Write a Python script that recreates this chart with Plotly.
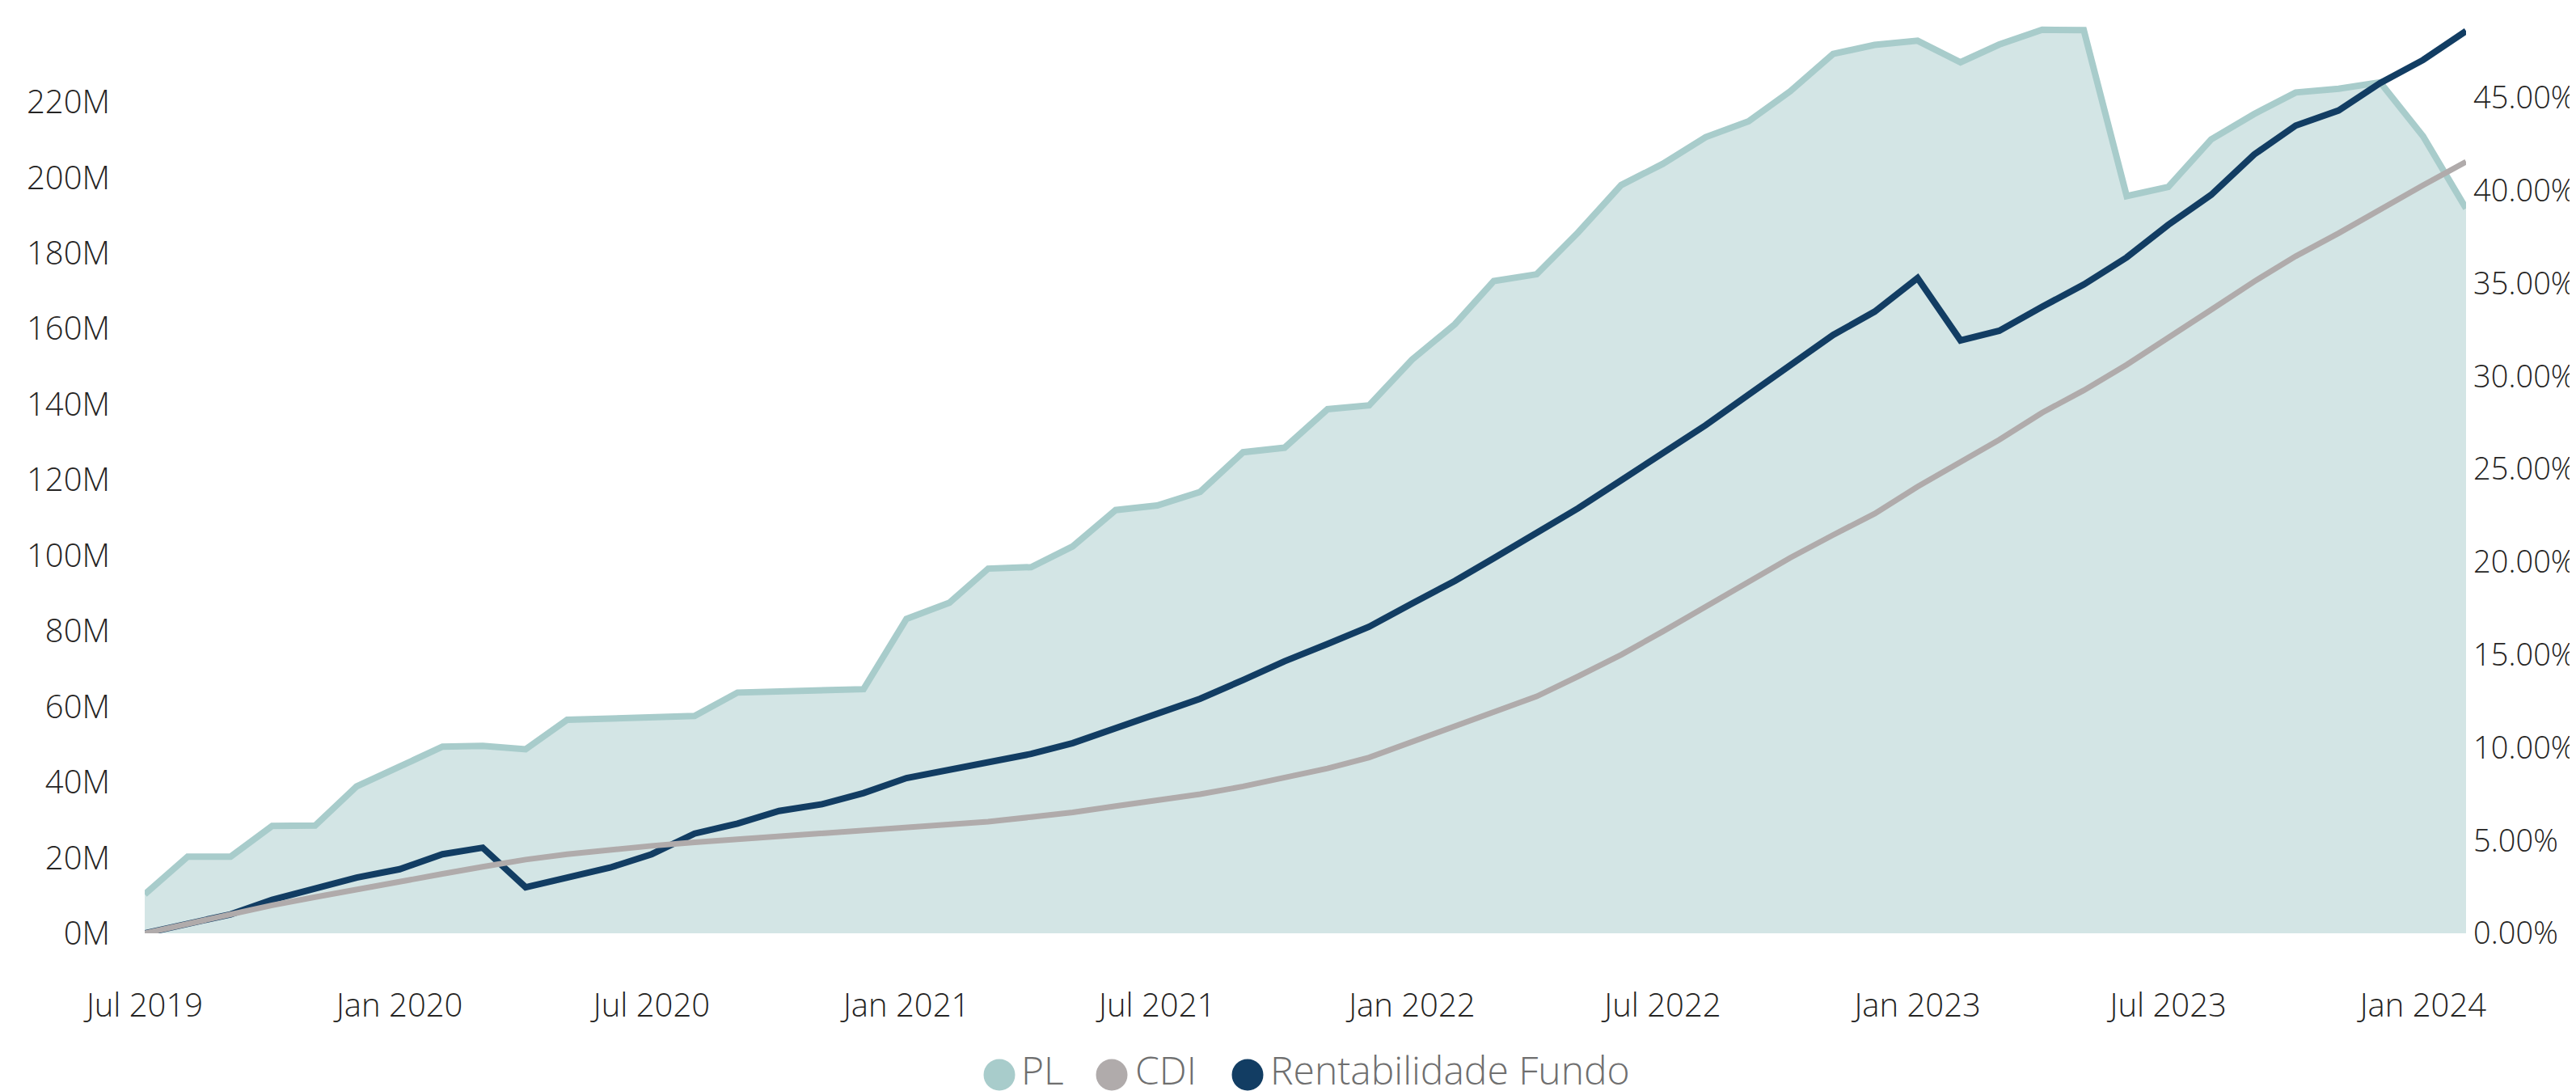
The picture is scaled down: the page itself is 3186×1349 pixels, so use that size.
import plotly.graph_objects as go

# ---------------- data ----------------
months = [
    "2019-07-01", "2019-08-01", "2019-09-01", "2019-10-01", "2019-11-01", "2019-12-01",
    "2020-01-01", "2020-02-01", "2020-03-01", "2020-04-01", "2020-05-01", "2020-06-01",
    "2020-07-01", "2020-08-01", "2020-09-01", "2020-10-01", "2020-11-01", "2020-12-01",
    "2021-01-01", "2021-02-01", "2021-03-01", "2021-04-01", "2021-05-01", "2021-06-01",
    "2021-07-01", "2021-08-01", "2021-09-01", "2021-10-01", "2021-11-01", "2021-12-01",
    "2022-01-01", "2022-02-01", "2022-03-01", "2022-04-01", "2022-05-01", "2022-06-01",
    "2022-07-01", "2022-08-01", "2022-09-01", "2022-10-01", "2022-11-01", "2022-12-01",
    "2023-01-01", "2023-02-01", "2023-03-01", "2023-04-01", "2023-05-01", "2023-06-01",
    "2023-07-01", "2023-08-01", "2023-09-01", "2023-10-01", "2023-11-01", "2023-12-01",
    "2024-01-01", "2024-02-01",
]

# PL (net asset value), in millions
pl_millions = [
    10.3, 20.3, 20.3, 28.4, 28.5, 38.9, 44.1, 49.4, 49.6, 48.7,
    56.5, 56.7, 56.9, 57.5, 63.7, 63.9, 64.1, 64.6, 83.2, 87.5,
    96.5, 96.9, 102.4, 112.0, 113.2, 116.8, 127.3, 128.5, 138.7, 139.7,
    151.8, 161.2, 172.6, 174.4, 185.5, 198.0, 203.6, 210.7, 214.9, 222.8,
    232.7, 235.1, 236.2, 230.5, 235.2, 239.1, 239.0, 195.1, 197.5, 210.1,
    216.8, 222.5, 223.5, 225.2, 210.9, 191.8,
]

# Accumulated CDI, in percent
cdi_pct = [
    0.00, 0.50, 1.06, 1.51, 1.95, 2.38, 2.77, 3.20, 3.58, 3.97,
    4.26, 4.52, 4.71, 4.90, 5.06, 5.23, 5.34, 5.50, 5.64, 5.87,
    6.01, 6.26, 6.51, 6.85, 7.14, 7.49, 7.91, 8.40, 8.88, 9.47,
    10.30, 11.12, 11.89, 12.76, 13.84, 15.00, 16.25, 17.60, 18.95, 20.22,
    21.45, 22.60, 24.05, 25.41, 26.58, 28.04, 29.24, 30.62, 32.12, 33.58,
    35.10, 36.46, 37.70, 38.99, 40.29, 41.55,
]

# Accumulated fund return, in percent
fundo_pct = [
    0.00, 0.55, 1.02, 1.80, 2.42, 3.00, 3.45, 4.26, 4.61, 2.48,
    3.00, 3.54, 4.26, 5.37, 5.91, 6.59, 6.95, 7.55, 8.36, 8.82,
    9.18, 9.66, 10.24, 11.02, 11.80, 12.63, 13.64, 14.65, 15.58, 16.51,
    17.76, 18.98, 20.20, 21.52, 22.89, 24.40, 25.85, 27.36, 29.01, 30.57,
    32.22, 33.48, 35.29, 31.93, 32.45, 33.74, 34.94, 36.40, 38.15, 39.77,
    41.94, 43.50, 44.31, 45.79, 47.03, 48.59,
]

left_ticks = [0, 20, 40, 60, 80, 100, 120, 140, 160, 180, 200, 220]
left_ticktext = [f"{v}M" for v in left_ticks]
right_ticks = [0.00, 0.05, 0.10, 0.15, 0.20, 0.25, 0.30, 0.35, 0.40, 0.45]
legend_names = ["PL", "CDI", "Rentabilidade Fundo"]

# ---------------- style ----------------
W, H = 3186, 1349
PLOT_L, PLOT_R, PLOT_T, PLOT_B = 171, 3042, 20, 1146
C_PL_LINE = "#A8CCCB"
C_PL_FILL = "#D3E5E5"
C_CDI = "#B0ABAB"
C_FUNDO = "#123D63"
FONT = "Open Sans"
TXT = "#252423"

cdi_frac = [v / 100 for v in cdi_pct]
fundo_frac = [v / 100 for v in fundo_pct]

fig = go.Figure()
fig.add_trace(go.Scatter(
    x=months, y=pl_millions, name=legend_names[0], mode="lines",
    line=dict(color=C_PL_LINE, width=8), fill="tozeroy", fillcolor=C_PL_FILL,
    showlegend=False, yaxis="y",
))
fig.add_trace(go.Scatter(
    x=months, y=fundo_frac, name=legend_names[2], mode="lines",
    line=dict(color=C_FUNDO, width=8), showlegend=False, yaxis="y2",
))
fig.add_trace(go.Scatter(
    x=months, y=cdi_frac, name=legend_names[1], mode="lines",
    line=dict(color=C_CDI, width=7), showlegend=False, yaxis="y2",
))

plot_h = PLOT_B - PLOT_T
left_max = plot_h / 93.45 * 20
right_max = plot_h / 114.8 * 0.05

tickfont = dict(family=FONT, size=40, color=TXT, weight=300)

fig.update_layout(
    width=W, height=H, autosize=False,
    margin=dict(l=PLOT_L, r=W - PLOT_R, t=PLOT_T, b=H - PLOT_B, pad=0, autoexpand=False),
    paper_bgcolor="white", plot_bgcolor="white",
    font=dict(family=FONT, size=40, color=TXT, weight=300),
    xaxis=dict(
        type="date", range=[months[0], months[-1]],
        tick0="2019-07-01", dtick="M6", tickformat="%b %Y",
        showgrid=False, zeroline=False, showline=False, ticks="",
        ticklabelstandoff=62, automargin=False, tickfont=tickfont,
    ),
    yaxis=dict(
        range=[0, left_max], tickmode="array", tickvals=left_ticks, ticktext=left_ticktext,
        showgrid=False, zeroline=False, showline=False, ticks="",
        ticklabelstandoff=42, automargin=False, tickfont=tickfont,
    ),
    yaxis2=dict(
        range=[0, right_max], tickmode="array", tickvals=right_ticks, tickformat=".2%",
        overlaying="y", side="right", anchor="x",
        showgrid=False, zeroline=False, showline=False, ticks="",
        ticklabelstandoff=8, automargin=False,
        tickfont=dict(family=FONT, size=38, color=TXT, weight=300),
    ),
)

# ---------------- custom legend (large circles) ----------------
def px_x(px):
    return (px - PLOT_L) / (PLOT_R - PLOT_L)

def px_y(py):
    return (PLOT_B - py) / (PLOT_B - PLOT_T)

leg_items = [
    (legend_names[0], C_PL_LINE, 1228, 1254),
    (legend_names[1], C_CDI, 1367, 1395),
    (legend_names[2], C_FUNDO, 1535, 1562),
]
for name, col, cx, tx in leg_items:
    fig.add_shape(
        type="circle", xref="paper", yref="paper",
        xsizemode="pixel", ysizemode="pixel",
        xanchor=px_x(cx), yanchor=px_y(1321),
        x0=-19.5, x1=19.5, y0=-19.5, y1=19.5,
        fillcolor=col, line=dict(width=0),
    )
    fig.add_annotation(
        x=px_x(tx), y=px_y(1348), xref="paper", yref="paper",
        text=name, showarrow=False, xanchor="left", yanchor="bottom",
        borderpad=0,
        font=dict(family=FONT, size=48, color="#6F6F6F", weight=300),
    )

fig.write_html("out.html")
